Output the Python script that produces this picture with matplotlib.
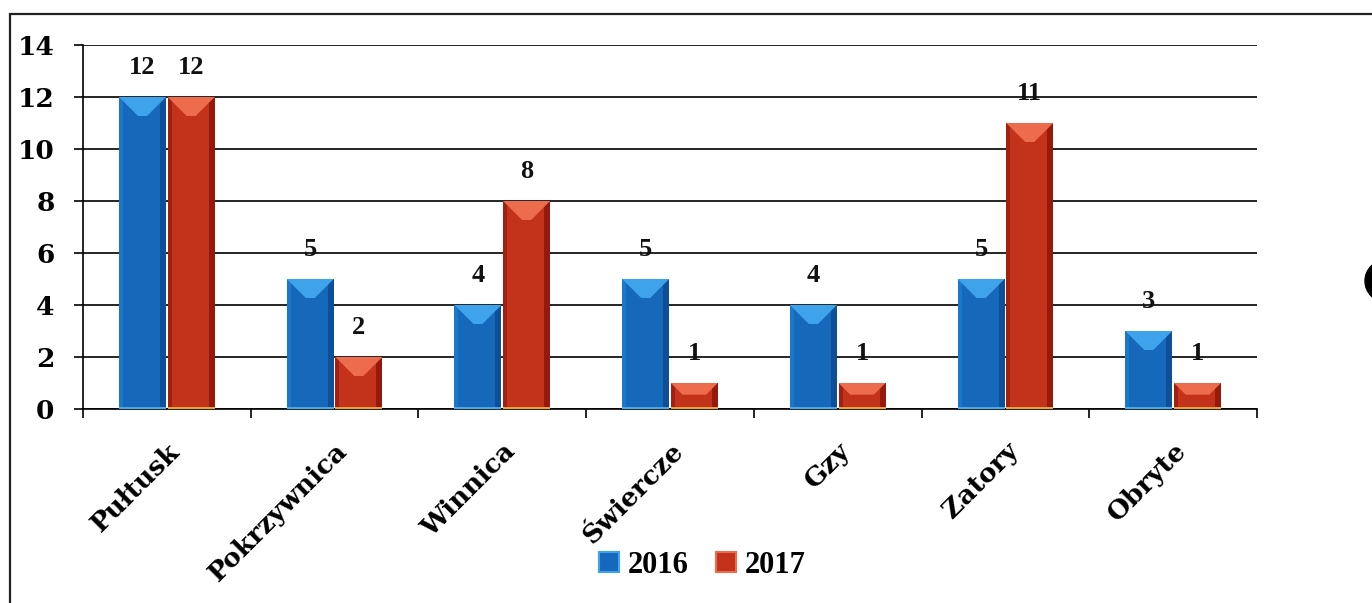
import matplotlib.pyplot as plt
import matplotlib.patches as mpatches
import matplotlib.transforms as mtransforms
import numpy as np

plt.rcParams['font.family'] = ['DejaVu Serif']

# dane
gminy = ['Pułtusk', 'Pokrzywnica', 'Winnica', 'Świercze', 'Gzy', 'Zatory', 'Obryte']
rok_2016 = [12, 5, 4, 5, 4, 5, 3]
rok_2017 = [12, 2, 8, 1, 1, 11, 1]
lata = ['2016', '2017']
y_ticks = [0, 2, 4, 6, 8, 10, 12, 14]

# kolory: korpus, gora (faza), bok lewy, bok prawy, dolna krawedz
kolory = {
    '2016': dict(body='#1668ba', top='#3fa3ec', left='#1a78cc', right='#0f4f98', bottom='#4aa8e8'),
    '2017': dict(body='#c3321b', top='#ee6c4e', left='#a3200e', right='#961a0b', bottom='#e8a040'),
}

fig = plt.figure(figsize=(13.72, 6.03), dpi=100)
ax = fig.add_axes([83 / 1372, 1 - 409 / 603, 1174 / 1372, 364 / 603])

ax.set_xlim(-0.5, len(gminy) - 0.5)
ax.set_ylim(0, 14)

# piksele na jednostke
px_x = 1174 / len(gminy)
px_y = 364 / 14

szer = 0.28
przes = 0.145
x = np.arange(len(gminy))


def slupki(vals, dx, c):
    bars = ax.bar(x + dx, vals, szer, color=c['body'], zorder=3, linewidth=0)
    for b in bars:
        x0 = b.get_x()
        w = b.get_width()
        h = b.get_height()
        x1 = x0 + w
        # boki
        lw = 4 / px_x
        rw = 6 / px_x
        ax.add_patch(mpatches.Rectangle((x0, 0), lw, h, color=c['left'], zorder=3.1, lw=0))
        ax.add_patch(mpatches.Rectangle((x1 - rw, 0), rw, h, color=c['right'], zorder=3.1, lw=0))
        # dolna krawedz
        ax.add_patch(mpatches.Rectangle((x0, 0), w, 2 / px_y, color=c['bottom'], zorder=3.2, lw=0))
        # faza u gory
        d_px = min(19, 0.45 * h * px_y)
        dy = d_px / px_y
        dx_in = min(d_px / px_x, w / 2 - 3 / px_x)
        poly = [(x0, h), (x1, h), (x1 - dx_in, h - dy), (x0 + dx_in, h - dy)]
        ax.add_patch(mpatches.Polygon(poly, closed=True, color=c['top'], zorder=3.3, lw=0))
        ax.annotate(f'{int(h)}', (b.get_x() + w / 2, h), xytext=(0, 21), textcoords='offset points',
                    ha='center', va='center', fontsize=19, fontweight='bold',
                    family='Liberation Serif', color='#111111', zorder=5)
    return bars


slupki(rok_2016, -przes, kolory['2016'])
slupki(rok_2017, przes, kolory['2017'])

# siatka i osie
ax.set_yticks(y_ticks)
ax.set_yticklabels([str(v) for v in y_ticks], fontsize=19, fontweight='bold')
ax.yaxis.grid(True, color='black', linewidth=1.2, zorder=1)
ax.set_axisbelow(True)
ax.tick_params(axis='y', length=6.5, width=1.2, pad=14, color='black')

ax.set_xticks(x)
ax.set_xticklabels(gminy, rotation=45, ha='right', rotation_mode='anchor',
                   fontsize=19, fontweight='bold')
ax.tick_params(axis='x', which='major', length=0, pad=21)
ax.set_xticks(np.arange(len(gminy) + 1) - 0.5, minor=True)
ax.tick_params(axis='x', which='minor', length=6.5, width=1.2, color='black')

for s in ['top', 'right']:
    ax.spines[s].set_visible(False)
for s in ['left', 'bottom']:
    ax.spines[s].set_linewidth(1.2)
    ax.spines[s].set_color('black')

# legenda
uchwyty = [mpatches.Patch(facecolor=kolory[r]['body'], edgecolor=kolory[r]['top'], linewidth=1.5)
           for r in lata]
fig.legend(uchwyty, lata, loc='center', bbox_to_anchor=(0.512, 0.063), ncol=2, frameon=False,
           prop=dict(family='Liberation Serif', weight='bold', size=22),
           handlelength=0.65, handleheight=0.65, handletextpad=0.3, columnspacing=0.9)

# ramka dokumentu
ramka = mpatches.Rectangle((10 / 1372, -0.2), 2.0, 1 - 14 / 603 + 0.2, transform=fig.transFigure,
                           fill=False, edgecolor='#222222', linewidth=1.6, clip_on=False)
fig.patches.append(ramka)

# fragment znaku z prawej krawedzi skanu
luk = mpatches.Wedge((1386, 603 - 281), 21, 90, 270, width=10, color='black',
                     transform=mtransforms.IdentityTransform(), clip_on=False)
fig.patches.append(luk)

fig.savefig('out.png', dpi=100, facecolor='white')
